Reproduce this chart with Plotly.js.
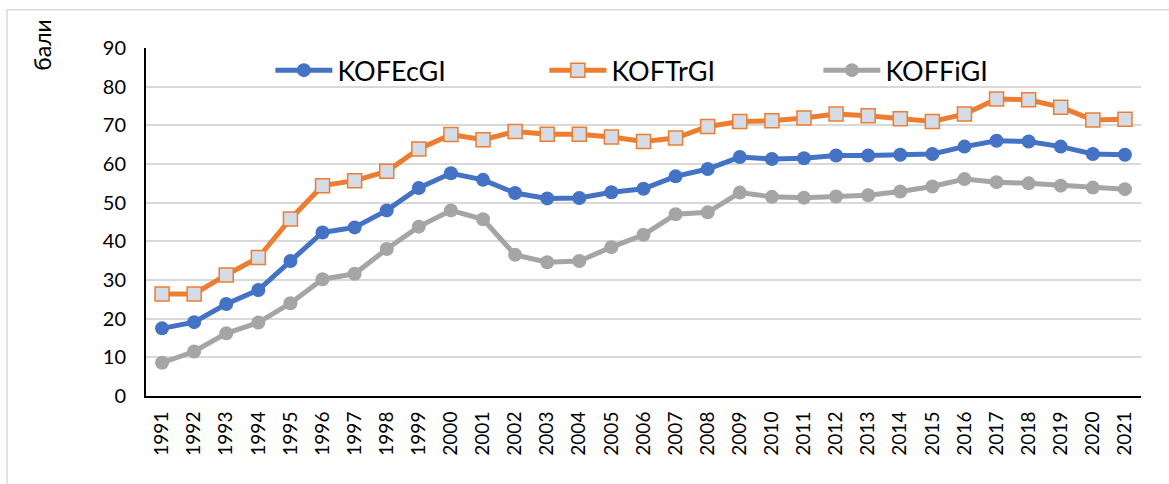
<!DOCTYPE html>
<html>
<head>
<meta charset="utf-8">
<script src="https://cdn.plot.ly/plotly-3.0.1.min.js"></script>
<style>html,body{margin:0;padding:0;background:#fff;}#chart{width:1169px;height:484px;}</style>
</head>
<body>
<div id="chart"></div>
<script>
const years = ["1991","1992","1993","1994","1995","1996","1997","1998","1999","2000","2001","2002","2003","2004","2005","2006","2007","2008","2009","2010","2011","2012","2013","2014","2015","2016","2017","2018","2019","2020","2021"];
const kofEcGI = [17.5,19.1,23.8,27.4,34.9,42.3,43.6,48.0,53.8,57.6,55.9,52.5,51.1,51.2,52.7,53.6,56.8,58.7,61.8,61.3,61.5,62.2,62.2,62.4,62.6,64.5,66.0,65.8,64.5,62.6,62.4];
const kofTrGI = [26.4,26.4,31.3,35.8,45.8,54.4,55.7,58.1,63.9,67.6,66.3,68.4,67.7,67.7,67.0,65.8,66.7,69.7,71.0,71.2,71.9,72.9,72.5,71.7,71.0,72.9,76.8,76.6,74.7,71.4,71.6];
const kofFiGI = [8.6,11.5,16.2,19.0,24.0,30.2,31.6,38.0,43.8,48.0,45.7,36.5,34.6,34.9,38.5,41.7,47.0,47.5,52.6,51.5,51.3,51.6,51.9,52.9,54.2,56.1,55.3,55.0,54.4,53.9,53.5];
const seriesNames = ["KOFEcGI","KOFTrGI","KOFFiGI"];
const yTitle = "бали";

const font = "Lato, 'Liberation Sans', sans-serif";
const traces = [
  {x: years, y: kofEcGI, name: seriesNames[0], type: "scatter", mode: "lines+markers",
   line: {color: "#4472C4", width: 5}, marker: {symbol: "circle", size: 14, color: "#4472C4"}},
  {x: years, y: kofTrGI, name: seriesNames[1], type: "scatter", mode: "lines+markers",
   line: {color: "#ED7D31", width: 5}, marker: {symbol: "square", size: 14, color: "#D6DCE5", line: {color: "#ED7D31", width: 1.5}}},
  {x: years, y: kofFiGI, name: seriesNames[2], type: "scatter", mode: "lines+markers",
   line: {color: "#A5A5A5", width: 5}, marker: {symbol: "circle", size: 14, color: "#A5A5A5"}}
];

const layout = {
  width: 1169, height: 484,
  margin: {l: 146, r: 28, t: 48, b: 88, pad: 0},
  paper_bgcolor: "#ffffff", plot_bgcolor: "#ffffff",
  font: {family: font, color: "#000000", size: 20},
  showlegend: true,
  legend: {orientation: "h", x: 0.125, y: 0.935, xanchor: "left", yanchor: "middle",
           font: {family: font, size: 27, color: "#000"}, entrywidth: 202, entrywidthmode: "pixels",
           bgcolor: "rgba(0,0,0,0)", itemwidth: 57, tracegroupgap: 0},
  xaxis: {type: "category", showgrid: false, showline: true, linecolor: "#000", linewidth: 2,
          ticks: "", tickangle: -90, tickfont: {family: font, size: 19}, ticklabelstandoff: 6,
          zeroline: false, range: [-0.5, 30.5]},
  yaxis: {range: [0, 90], dtick: 10, showgrid: true, gridcolor: "#D9D9D9", gridwidth: 2,
          showline: true, linecolor: "#000", linewidth: 2, ticks: "", zeroline: false,
          tickfont: {family: font, size: 20}, ticklabelstandoff: 14},
  shapes: [
    {type: "rect", xref: "paper", yref: "paper", x0: -0.1397, x1: 1.04, y0: -0.28, y1: 1.11,
     line: {color: "#D9D9D9", width: 1.5}, fillcolor: "rgba(0,0,0,0)", layer: "below"}
  ],
  annotations: [
    {text: yTitle, xref: "paper", yref: "paper", x: -0.1045, y: 1.0095, textangle: -90,
     showarrow: false, xanchor: "center", yanchor: "middle", font: {family: font, size: 23, color: "#000"}}
  ]
};
Plotly.newPlot("chart", traces, layout, {staticPlot: true, displayModeBar: false});
</script>
</body>
</html>
